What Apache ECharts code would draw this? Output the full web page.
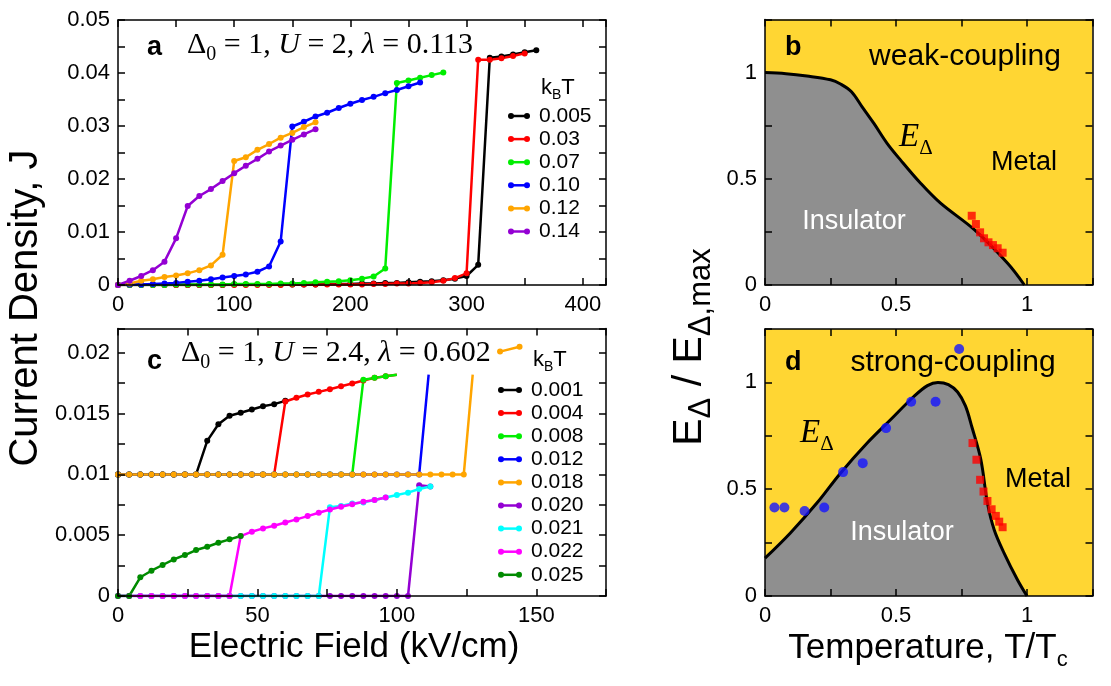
<!DOCTYPE html>
<html><head><meta charset="utf-8">
<script src="https://cdn.jsdelivr.net/npm/echarts@6/dist/echarts.min.js"></script>
<style>html,body{margin:0;padding:0;background:#fff}#c{width:1111px;height:686px}</style>
</head><body><div id="c"></div>
<script>
// ---------------- DATA ----------------
// Panel a : J vs E (kV/cm), Delta0=1, U=2, lambda=0.113
const aNames = ['0.005','0.03','0.07','0.10','0.12','0.14'];
const a_005 = [[0,0],[10,0],[20,0],[30,0],[40,0],[50,0],[60,0],[70,0],[80,0],[90,0],[100,0.0001],[110,0.0001],[120,0.0001],[130,0.0001],[140,0.0001],[150,0.0001],[160,0.0001],[170,0.0001],[180,0.0002],[190,0.0002],[200,0.0002],[210,0.0003],[220,0.0003],[230,0.0004],[240,0.0004],[250,0.0005],[260,0.0006],[270,0.0007],[280,0.0009],[290,0.0012],[300,0.0017],[310,0.0038],[320,0.0429],[330,0.0431],[340,0.0435],[350,0.0439],[360,0.0443]];
const a_03 = [[0,0],[10,0],[20,0],[30,0],[40,0],[50,0],[60,0],[70,0],[80,0],[90,0],[100,0],[110,0],[120,0],[130,0],[140,0],[150,0.0001],[160,0.0001],[170,0.0001],[180,0.0001],[190,0.0001],[200,0.0001],[210,0.0001],[220,0.0002],[230,0.0002],[240,0.0003],[250,0.0003],[260,0.0004],[270,0.0005],[280,0.0008],[290,0.0013],[300,0.0022],[310,0.0425],[320,0.0425],[330,0.0428],[340,0.0432],[350,0.0437]];
const a_07 = [[0,0],[10,0],[20,0],[30,0],[40,0],[50,0.0001],[60,0.0001],[70,0.0001],[80,0.0001],[90,0.0001],[100,0.0002],[110,0.0002],[120,0.0002],[130,0.0002],[140,0.0003],[150,0.0003],[160,0.0004],[170,0.0005],[180,0.0006],[190,0.0007],[200,0.0009],[210,0.0012],[220,0.0016],[230,0.0031],[240,0.0381],[250,0.0386],[260,0.0391],[270,0.0396],[280,0.0401]];
const a_10 = [[0,0],[10,0.0001],[20,0.0001],[30,0.0002],[40,0.0003],[50,0.0004],[60,0.0006],[70,0.0008],[80,0.0011],[90,0.0014],[100,0.0017],[110,0.002],[120,0.0025],[130,0.0035],[140,0.0082],[150,0.0299],[160,0.0308],[170,0.0318],[180,0.0325],[190,0.0334],[200,0.0342],[210,0.0349],[220,0.0355],[230,0.0362],[240,0.0368],[250,0.0375],[260,0.0382]];
const a_12 = [[0,0],[10,0.0003],[20,0.0008],[30,0.0011],[40,0.0015],[50,0.0018],[60,0.0022],[70,0.0028],[80,0.0037],[90,0.0057],[100,0.0234],[110,0.0241],[120,0.0255],[130,0.0266],[140,0.0278],[150,0.0287],[160,0.0298],[170,0.0307]];
const a_14 = [[0,0],[10,0.0008],[20,0.0017],[30,0.0028],[40,0.0044],[50,0.0088],[60,0.0149],[70,0.0168],[80,0.0181],[90,0.0196],[100,0.0211],[110,0.0225],[120,0.0238],[130,0.0252],[140,0.0263],[150,0.0274],[160,0.0284],[170,0.0294]];

// Panel c : J vs E (kV/cm), Delta0=1, U=2.4, lambda=0.602
const cNames = ['0.001','0.004','0.008','0.012','0.018','0.020','0.021','0.022','0.025'];
const cClipLevel = 0.0182; // curves are cut at this level in the original figure
const c_001 = [[0,0.01],[4,0.01],[8,0.01],[12,0.01],[16,0.01],[20,0.01],[24,0.01],[28,0.01],[32,0.01276],[36,0.01413],[40,0.01482],[44,0.01507],[48,0.01534],[52,0.01561],[56,0.01578],[60,0.01605]];
const c_004 = [[0,0.01],[4,0.01],[8,0.01],[12,0.01],[16,0.01],[20,0.01],[24,0.01],[28,0.01],[32,0.01],[36,0.01],[40,0.01],[44,0.01],[48,0.01],[52,0.01],[56,0.01],[60,0.016],[64,0.0163],[68,0.01657],[72,0.01679],[76,0.01701],[80,0.01725],[84,0.01748],[88,0.01772],[92,0.01794],[96,0.01808],[100,0.0182]];
const c_008 = [[0,0.01],[4,0.01],[8,0.01],[12,0.01],[16,0.01],[20,0.01],[24,0.01],[28,0.01],[32,0.01],[36,0.01],[40,0.01],[44,0.01],[48,0.01],[52,0.01],[56,0.01],[60,0.01],[64,0.01],[68,0.01],[72,0.01],[76,0.01],[80,0.01],[84,0.01],[88,0.01779],[92,0.01794],[96,0.01808],[100,0.0182]];
const c_012 = [[0,0.01],[4,0.01],[8,0.01],[12,0.01],[16,0.01],[20,0.01],[24,0.01],[28,0.01],[32,0.01],[36,0.01],[40,0.01],[44,0.01],[48,0.01],[52,0.01],[56,0.01],[60,0.01],[64,0.01],[68,0.01],[72,0.01],[76,0.01],[80,0.01],[84,0.01],[88,0.01],[92,0.01],[96,0.01],[100,0.01],[104,0.01],[108,0.01],[111.4,0.0182]];
const c_018 = [[0,0.01],[4,0.01],[8,0.01],[12,0.01],[16,0.01],[20,0.01],[24,0.01],[28,0.01],[32,0.01],[36,0.01],[40,0.01],[44,0.01],[48,0.01],[52,0.01],[56,0.01],[60,0.01],[64,0.01],[68,0.01],[72,0.01],[76,0.01],[80,0.01],[84,0.01],[88,0.01],[92,0.01],[96,0.01],[100,0.01],[104,0.01],[108,0.01],[112,0.01],[116,0.01],[120,0.01],[124,0.01],[127.2,0.0182],[132,'-'],[137,0.0201],[144,0.0205]];
const c_020 = [[0,0],[4,0],[8,0],[12,0],[16,0],[20,0],[24,0],[28,0],[32,0],[36,0],[40,0],[44,0],[48,0],[52,0],[56,0],[60,0],[64,0],[68,0],[72,0],[76,0],[80,0],[84,0],[88,0],[92,0],[96,0],[100,0],[104,0],[108,0.0091],[112,0.009]];
const c_021 = [[0,0],[4,0],[8,0],[12,0],[16,0],[20,0],[24,0],[28,0],[32,0],[36,0],[40,0],[44,0],[48,0],[52,0],[56,0],[60,0],[64,0],[68,0],[72,0],[76,0.0073],[80,0.0074],[84,0.0076],[88,0.0077],[92,0.0079],[96,0.0081],[100,0.0083],[104,0.0085],[108,0.0088],[112,0.009]];
const c_022 = [[0,0],[4,0],[8,0],[12,0],[16,0],[20,0],[24,0],[28,0],[32,0],[36,0],[40,0],[44,0.00493],[48,0.00529],[52,0.00556],[56,0.00578],[60,0.00605],[64,0.0063],[68,0.00657],[72,0.00685],[76,0.00712],[80,0.00734],[84,0.00754],[88,0.00775],[92,0.0079],[96,0.0081]];
const c_025 = [[0,0],[4,0],[8,0.00154],[12,0.00208],[16,0.00255],[20,0.00301],[24,0.00337],[28,0.00378],[32,0.00405],[36,0.00438],[40,0.00466],[44,0.00493]];

// Panel b : weak coupling phase diagram
const bBoundaryT = [0,0.08,0.16,0.25,0.29,0.33,0.37,0.415,0.466,0.517,0.594,0.67,0.8,0.926,0.99];
const bBoundaryE = [1.0,0.995,0.984,0.966,0.945,0.91,0.84,0.762,0.667,0.589,0.479,0.385,0.259,0.102,0.0];
const bSquaresT = [0.789,0.805,0.821,0.836,0.853,0.87,0.888,0.907];
const bSquaresE = [0.326,0.287,0.248,0.22,0.201,0.188,0.173,0.152];

// Panel d : strong coupling phase diagram
const dBoundaryT = [0,0.096,0.198,0.288,0.39,0.479,0.568,0.62,0.66,0.70,0.735,0.765,0.79,0.824,0.849,0.875,0.913,0.964,1.0];
const dBoundaryE = [0.177,0.294,0.435,0.575,0.716,0.825,0.934,0.985,1.0,0.99,0.955,0.89,0.79,0.638,0.435,0.309,0.2,0.075,0.0];
const dSquaresT = [0.792,0.807,0.821,0.834,0.849,0.865,0.881,0.894,0.907];
const dSquaresE = [0.716,0.638,0.544,0.489,0.445,0.406,0.375,0.348,0.322];
const dCirclesT = [0.036,0.074,0.151,0.226,0.298,0.373,0.462,0.558,0.651,0.741];
const dCirclesE = [0.414,0.414,0.398,0.414,0.58,0.622,0.786,0.909,0.909,1.156];

// ---------------- STYLE / BUILD ----------------
const SANS = 'Liberation Sans, Arial, Helvetica, sans-serif';
const SERIF = 'Liberation Serif, Times New Roman, serif';
const aColors = ['#000000','#ff0000','#00ee00','#0000ff','#ffa500','#9400d3'];
const cColors = ['#000000','#ff0000','#00ee00','#0000ff','#ffa500','#9400d3','#00ffff','#ff00ff','#008b00'];
const YELLOW = '#ffd633', GRAY = '#8f8f8f';

const zip = (a,b) => a.map((v,i)=>[v,b[i]]);

function fmt(step){ return v => (Math.abs(v/step - Math.round(v/step)) < 1e-6) ? String(+(+v).toFixed(6)) : ''; }
function axisBase(grid,min,max,interval){
  return {gridIndex:grid,type:'value',min,max,interval,z:5,
    axisLine:{show:true,onZero:false,lineStyle:{color:'#000',width:1.5}},
    axisTick:{show:true,inside:true,length:7,lineStyle:{color:'#000',width:1.5}},
    splitLine:{show:false}};
}
function xPair(grid,min,max,interval,labelStep){
  return [
    Object.assign(axisBase(grid,min,max,interval),{position:'bottom',axisLabel:{show:true,formatter:fmt(labelStep),color:'#000',fontSize:22,fontFamily:SANS,margin:9}}),
    Object.assign(axisBase(grid,min,max,interval),{position:'top',axisLabel:{show:false}})
  ];
}
function yPair(grid,min,max,interval,labelStep){
  return [
    Object.assign(axisBase(grid,min,max,interval),{position:'left',axisLabel:{show:true,formatter:fmt(labelStep),color:'#000',fontSize:22,fontFamily:SANS,margin:8}}),
    Object.assign(axisBase(grid,min,max,interval),{position:'right',axisLabel:{show:false}})
  ];
}

const grids = [
  {left:118,top:20,width:488,height:265},            // a
  {left:118,top:328.5,width:488,height:267.5},       // c
  {left:765,top:19.5,width:327.5,height:265.5,show:true,backgroundColor:YELLOW,borderWidth:0}, // b
  {left:765,top:329,width:327.5,height:267,show:true,backgroundColor:YELLOW,borderWidth:0}     // d
];
const xAxes = [].concat(xPair(0,0,420,50,100), xPair(1,0,175,25,50), xPair(2,0,1.25,0.25,0.5), xPair(3,0,1.25,0.25,0.5));
const yAxes = [].concat(yPair(0,0,0.05,0.005,0.01), yPair(1,0,0.022,0.0025,0.005), yPair(2,0,1.25,0.25,0.5), yPair(3,0,1.25,0.25,0.5));

function jSeries(name,data,color,axisIdx){
  return {name,type:'line',xAxisIndex:axisIdx,yAxisIndex:axisIdx,
    data:data.map(p => p[1]===cClipLevel ? {value:p,symbol:'none'} : p),
    symbol:'circle',symbolSize:6,showSymbol:true,
    lineStyle:{color,width:2.5},itemStyle:{color},emphasis:{disabled:true},clip:true};
}
const aData = [a_005,a_03,a_07,a_10,a_12,a_14];
const cData = [c_001,c_004,c_008,c_012,c_018,c_020,c_021,c_022,c_025];
const series = [];
aData.forEach((d,i)=>series.push(jSeries(aNames[i],d,aColors[i],0)));
cData.forEach((d,i)=>series.push(jSeries(cNames[i],d,cColors[i],2)));

series.push({type:'line',xAxisIndex:4,yAxisIndex:4,data:zip(bBoundaryT,bBoundaryE),smooth:0.35,symbol:'none',
  lineStyle:{color:'#000',width:3},areaStyle:{color:GRAY,opacity:1},emphasis:{disabled:true}});
series.push({type:'scatter',xAxisIndex:4,yAxisIndex:4,data:zip(bSquaresT,bSquaresE),symbol:'rect',symbolSize:8,itemStyle:{color:'#ff0000'},z:3});
series.push({type:'line',xAxisIndex:6,yAxisIndex:6,data:zip(dBoundaryT,dBoundaryE),smooth:0.35,symbol:'none',
  lineStyle:{color:'#000',width:3},areaStyle:{color:GRAY,opacity:1},emphasis:{disabled:true}});
series.push({type:'scatter',xAxisIndex:6,yAxisIndex:6,data:zip(dSquaresT,dSquaresE),symbol:'rect',symbolSize:8,itemStyle:{color:'#ff0000'},z:3});
series.push({type:'scatter',xAxisIndex:6,yAxisIndex:6,data:zip(dCirclesT,dCirclesE),symbol:'circle',symbolSize:10,itemStyle:{color:'#1414ff'},z:3});

// ---- legend drawn as graphic (line with dots + label) ----
function legendGraphics(names,colors,x0,x1,tx,y0,dy){
  const g=[];
  names.forEach((n,i)=>{
    const y=y0+dy*i, c=colors[i];
    g.push({type:'line',z:100,silent:true,shape:{x1:x0,y1:y,x2:x1,y2:y},style:{stroke:c,lineWidth:2.5}});
    g.push({type:'circle',z:100,silent:true,shape:{cx:x0,cy:y,r:3},style:{fill:c}});
    g.push({type:'circle',z:100,silent:true,shape:{cx:x1,cy:y,r:3},style:{fill:c}});
    g.push({type:'text',z:100,silent:true,x:tx,y:y,style:{text:n,fill:'#000',fontFamily:SANS,fontSize:21,align:'left',verticalAlign:'middle'}});
  });
  return g;
}

// ---- texts ----
function subRich(size,subSize,family){
  return {
    m:{fontFamily:family,fontSize:size,lineHeight:Math.round(size*1.3),verticalAlign:'middle',fill:'#000'},
    i:{fontFamily:family,fontSize:size,lineHeight:Math.round(size*1.3),verticalAlign:'middle',fontStyle:'italic',fill:'#000'},
    s:{fontFamily:family,fontSize:subSize,lineHeight:subSize,verticalAlign:'bottom',fill:'#000'}
  };
}
function T(x,y,text,o){
  o=o||{};
  return {type:'text',x,y,rotation:o.rot||0,z:100,silent:true,
    style:Object.assign({text,fill:o.fill||'#000',fontFamily:o.family||SANS,fontSize:o.size||27,fontWeight:o.weight||'normal',
      fontStyle:o.italic?'italic':'normal',align:o.align||'left',verticalAlign:'middle'},o.rich?{rich:o.rich}:{})};
}
const graphics = [
  T(147,48,'a',{weight:'bold',size:27}),
  T(187,45,'{m|Δ}{s|0}{m| = 1, }{i|U}{m| = 2, }{i|λ}{m| = 0.113}',{rich:subRich(30,20,SERIF)}),
  T(541,88,'{m|k}{s|B}{m|T}',{rich:subRich(22,14,SANS)}),
  T(147,362,'c',{weight:'bold',size:27}),
  T(181,353,'{m|Δ}{s|0}{m| = 1, }{i|U}{m| = 2.4, }{i|λ}{m| = 0.602}',{rich:subRich(30,20,SERIF)}),
  T(533,360,'{m|k}{s|B}{m|T}',{rich:subRich(22,14,SANS)}),
  T(785,48,'b',{weight:'bold',size:27}),
  T(965,57,'weak-coupling',{size:30,align:'center'}),
  T(899,137,'{i|E}{s|Δ}',{rich:subRich(33,21,SERIF)}),
  T(1024,163,'Metal',{size:27,align:'center'}),
  T(854,222,'Insulator',{size:27,align:'center',fill:'#ffffff'}),
  T(785,363,'d',{weight:'bold',size:27}),
  T(953,363,'strong-coupling',{size:30,align:'center'}),
  T(800,433,'{i|E}{s|Δ}',{rich:subRich(33,21,SERIF)}),
  T(1038,480,'Metal',{size:27,align:'center'}),
  T(902,533,'Insulator',{size:27,align:'center',fill:'#ffffff'}),
  T(354,647,'Electric Field (kV/cm)',{size:35,align:'center'}),
  T(928,648,'{m|Temperature, T/T}{s|c}',{align:'center',rich:subRich(35,22,SANS)}),
  T(26,308,'Current Density, J',{size:40,align:'center',rot:Math.PI/2}),
  T(690,347,'{m|E}{s|Δ}{m| / E}{s|Δ,max}',{align:'center',rot:Math.PI/2,rich:subRich(41,31,SANS)})
].concat(
  legendGraphics(aNames,aColors,511,527,539,116,23.1),
  legendGraphics(cNames,cColors,501,519,531,390,23.1)
);

const chart = echarts.init(document.getElementById('c'),null,{renderer:'canvas'});
chart.setOption({
  animation:false,
  backgroundColor:'#ffffff',
  grid:grids,
  xAxis:xAxes,
  yAxis:yAxes,
  series,
  graphic:graphics
});
</script></body></html>
